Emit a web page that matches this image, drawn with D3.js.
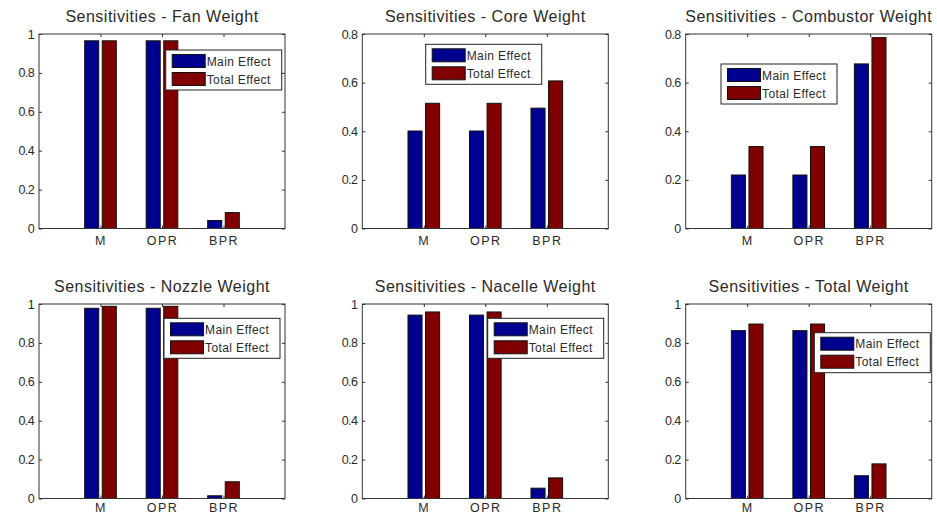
<!DOCTYPE html>
<html>
<head>
<meta charset="utf-8">
<script src="https://cdn.jsdelivr.net/npm/d3@7"></script>
<style>
  html, body { margin: 0; padding: 0; background: #fff; }
  svg { display: block; }
  text { font-family: "Liberation Sans", Arial, Helvetica, sans-serif; fill: #2a2a2a; }
</style>
</head>
<body>
<svg id="chart" width="937" height="520"></svg>
<script>
// ---- data ----
const categories = ["M", "OPR", "BPR"];
const titles = [
  "Sensitivities - Fan Weight",
  "Sensitivities - Core Weight",
  "Sensitivities - Combustor Weight",
  "Sensitivities - Nozzle Weight",
  "Sensitivities - Nacelle Weight",
  "Sensitivities - Total Weight"
];
const seriesNames = ["Main Effect", "Total Effect"];
const mainEffect = [
  [0.965, 0.965, 0.041],
  [0.401, 0.401, 0.495],
  [0.220, 0.220, 0.677],
  [0.978, 0.978, 0.014],
  [0.943, 0.943, 0.053],
  [0.863, 0.863, 0.117]
];
const totalEffect = [
  [0.965, 0.965, 0.082],
  [0.515, 0.515, 0.607],
  [0.337, 0.337, 0.785],
  [0.988, 0.988, 0.086],
  [0.959, 0.959, 0.106],
  [0.897, 0.897, 0.178]
];
const yMaxes = [1, 0.8, 0.8, 1, 1, 1];
const yTicksFull = [0, 0.2, 0.4, 0.6, 0.8, 1];
const yTicksShort = [0, 0.2, 0.4, 0.6, 0.8];

// ---- layout ----
const colors = ["#00008F", "#800000"];
const colLefts = [39, 362.3, 685.7];
const rowTops = [34, 304];
const xLabelPad = [8, 5];
const axW = 246, axH = 194.5;
// legend offsets relative to axes (x, y)
const legendPos = [[126.7, 16], [63.4, 10.3], [35.3, 30], [125, 14.3], [125.4, 14.3], [128.6, 28.7]];

const svg = d3.select("#chart");

titles.forEach((title, k) => {
  const col = k % 3, row = Math.floor(k / 3);
  const left = colLefts[col], top = rowTops[row];
  const g = svg.append("g").attr("transform", `translate(${left},${top})`);

  const x = d3.scaleLinear().domain([0, 4]).range([0, axW]);
  const y = d3.scaleLinear().domain([0, yMaxes[k]]).range([axH, 0]);
  const ticks = yMaxes[k] === 1 ? yTicksFull : yTicksShort;

  // bars
  const groupW = 2 / (2 + 1.5);          // MATLAB grouped bar width
  const barW = groupW / 2 * 0.8;
  const offsets = [-groupW / 4, groupW / 4];
  [mainEffect[k], totalEffect[k]].forEach((vals, s) => {
    g.selectAll(null).data(vals).enter().append("rect")
      .attr("x", (d, i) => x(i + 1 + offsets[s] - barW / 2))
      .attr("width", x(barW) - x(0))
      .attr("y", d => y(d))
      .attr("height", d => y(0) - y(d))
      .attr("fill", colors[s])
      .attr("stroke", "#111")
      .attr("stroke-width", 1);
  });

  const fmt = d => (d === 0 ? "0" : d === 1 ? "1" : String(+d.toFixed(1)));

  // axes
  const yl = g.append("g").call(d3.axisLeft(y).tickValues(ticks).tickFormat(fmt).tickSize(-3).tickPadding(5));
  const yr = g.append("g").attr("transform", `translate(${axW},0)`)
    .call(d3.axisRight(y).tickValues(ticks).tickFormat("").tickSize(-3));
  const xb = g.append("g").attr("transform", `translate(0,${axH})`)
    .call(d3.axisBottom(x).tickValues([1, 2, 3]).tickFormat(d => categories[d - 1]).tickSize(-3).tickPadding(xLabelPad[row]));
  const xt = g.append("g")
    .call(d3.axisTop(x).tickValues([1, 2, 3]).tickFormat("").tickSize(-3));
  [yl, yr, xb, xt].forEach(a => {
    a.select(".domain").remove();
    a.selectAll("line").attr("stroke", "#333");
  });
  yl.selectAll("text").attr("font-size", 12.5).attr("letter-spacing", "-0.6px").attr("fill", "#2a2a2a");
  xb.selectAll("text").attr("font-size", 12.5).attr("letter-spacing", "1.5px").attr("fill", "#2a2a2a");

  g.append("rect").attr("x", 0).attr("y", 0).attr("width", axW).attr("height", axH)
    .attr("fill", "none").attr("stroke", "#333").attr("stroke-width", 1);

  // title
  g.append("text").attr("x", axW / 2).attr("y", -12)
    .attr("text-anchor", "middle").attr("font-size", 16).attr("letter-spacing", "0.5px")
    .attr("fill", "#333")
    .text(title);

  // legend
  const lg = g.append("g").attr("transform", `translate(${legendPos[k][0]},${legendPos[k][1]})`);
  lg.append("rect").attr("width", 116).attr("height", 40)
    .attr("fill", "#fff").attr("stroke", "#222").attr("stroke-width", 1);
  seriesNames.forEach((name, s) => {
    lg.append("rect").attr("x", 6.5).attr("y", 4.5 + s * 18).attr("width", 33).attr("height", 13)
      .attr("fill", colors[s]).attr("stroke", "#111");
    lg.append("text").attr("x", 41).attr("y", 15.5 + s * 18)
      .attr("font-size", 12).attr("letter-spacing", "0.4px").text(name);
  });
});
</script>
</body>
</html>
